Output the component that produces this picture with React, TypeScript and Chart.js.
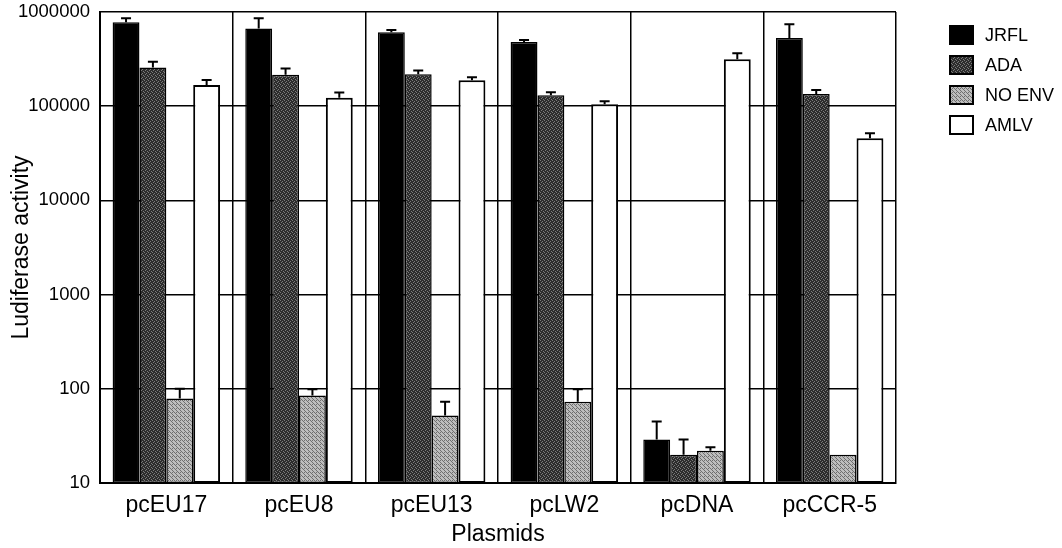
import React, { useEffect, useRef } from 'react';
import { Chart, registerables } from 'chart.js';

Chart.register(...registerables);

const categories = ['pcEU17', 'pcEU8', 'pcEU13', 'pcLW2', 'pcDNA', 'pcCCR-5'];
const seriesNames = ['JRFL', 'ADA', 'NO ENV', 'AMLV'];

const jrflValues = [780000, 670000, 610000, 480000, 29, 530000];
const jrflErrTop = [860000, 860000, 645000, 505000, 45, 740000];
const adaValues = [257000, 216000, 218000, 131000, 20, 135000];
const adaErrTop = [297000, 251000, 239000, 141000, 29, 149000];
const noEnvValues = [79, 85, 52, 73, 22, 20];
const noEnvErrTop = [100, 99, 73, 99, 24, 20];
const amlvValues = [168000, 123000, 188000, 105000, 315000, 45600];
const amlvErrTop = [190000, 140000, 203000, 113000, 364000, 51500];

const yTickValues = [10, 100, 1000, 10000, 100000, 1000000];

const FONT = '"Liberation Sans", Arial, Helvetica, sans-serif';

function makePattern(base: string, dot: string, mask: number[][]): CanvasPattern | string {
  const c = document.createElement('canvas');
  const n = mask.length;
  c.width = n;
  c.height = n;
  const g = c.getContext('2d');
  if (!g) return base;
  g.fillStyle = base;
  g.fillRect(0, 0, n, n);
  g.fillStyle = dot;
  for (let r = 0; r < n; r++) {
    for (let k = 0; k < n; k++) {
      if (mask[r][k]) g.fillRect(k, r, 1, 1);
    }
  }
  const p = g.createPattern(c, 'repeat');
  return p || base;
}

const errorBarPlugin = {
  id: 'errorBars',
  afterDatasetsDraw(chart: any) {
    const ctx = chart.ctx;
    const yScale = chart.scales.y;
    ctx.save();
    ctx.strokeStyle = '#000';
    ctx.lineWidth = 2;
    chart.data.datasets.forEach((ds: any, i: number) => {
      const meta = chart.getDatasetMeta(i);
      meta.data.forEach((bar: any, j: number) => {
        const top = ds.errTop[j];
        const yTop = bar.y;
        const yErr = yScale.getPixelForValue(top);
        if (yErr < yTop - 1) {
          ctx.beginPath();
          ctx.moveTo(bar.x, yTop);
          ctx.lineTo(bar.x, yErr);
          ctx.moveTo(bar.x - 5, yErr);
          ctx.lineTo(bar.x + 5, yErr);
          ctx.stroke();
        }
      });
    });
    ctx.restore();
  },
};

const legendPlugin = {
  id: 'boxLegend',
  afterDraw(chart: any) {
    const ctx = chart.ctx;
    ctx.save();
    const x0 = 950;
    const y0 = 26;
    const step = 30;
    const bw = 23;
    const bh = 18;
    chart.data.datasets.forEach((ds: any, i: number) => {
      const y = y0 + i * step;
      ctx.fillStyle = ds.backgroundColor;
      ctx.fillRect(x0, y, bw, bh);
      ctx.lineWidth = 2;
      ctx.strokeStyle = '#000';
      ctx.strokeRect(x0, y, bw, bh);
      ctx.fillStyle = '#000';
      ctx.font = `18px ${FONT}`;
      ctx.textBaseline = 'middle';
      ctx.textAlign = 'left';
      ctx.fillText(ds.label, x0 + bw + 12, y + bh / 2 + 1);
    });
    ctx.restore();
  },
};

export default function App() {
  const ref = useRef<HTMLCanvasElement | null>(null);

  useEffect(() => {
    if (!ref.current) return;
    const adaPat = makePattern('#2c2c2c', '#7a7a7a', [
      [1, 0, 0, 0],
      [0, 0, 1, 0],
      [0, 1, 0, 0],
      [0, 0, 0, 1],
    ]);
    const noEnvPat = makePattern('#bdbdbd', '#6e6e6e', [
      [1, 0, 1, 0],
      [0, 0, 0, 1],
      [1, 0, 0, 0],
      [0, 1, 0, 0],
    ]);
    const fills = ['#000000', adaPat, noEnvPat, '#ffffff'];
    const values = [jrflValues, adaValues, noEnvValues, amlvValues];
    const errs = [jrflErrTop, adaErrTop, noEnvErrTop, amlvErrTop];

    const chart = new Chart(ref.current, {
      type: 'bar',
      data: {
        labels: categories,
        datasets: seriesNames.map((name, i) => ({
          label: name,
          data: values[i],
          errTop: errs[i],
          backgroundColor: fills[i] as any,
          borderColor: '#000',
          borderWidth: i === 3 ? 2 : 1.5,
          borderSkipped: false,
          categoryPercentage: 0.81,
          barPercentage: 1.0,
        })) as any,
      },
      options: {
        animation: false,
        responsive: false,
        maintainAspectRatio: false,
        layout: { padding: { top: 12, right: 166, left: 0, bottom: 0 } },
        plugins: {
          legend: { display: false },
          tooltip: { enabled: false },
        },
        scales: {
          x: {
            type: 'category',
            grid: {
              display: true,
              offset: true,
              color: '#000',
              lineWidth: 1.5,
              drawTicks: false,
            },
            border: { display: true, color: '#000', width: 2 },
            ticks: {
              color: '#000',
              padding: 9,
              font: { family: FONT, size: 23 },
              maxRotation: 0,
            },
            title: {
              display: true,
              text: 'Plasmids',
              color: '#000',
              font: { family: FONT, size: 23 },
              padding: { top: 0, bottom: 0 },
            },
            afterFit: (s: any) => {
              s.height = 65;
              s.paddingLeft = 0;
              s.paddingRight = 0;
            },
          },
          y: {
            type: 'logarithmic',
            min: 10,
            max: 1000000,
            grid: {
              display: true,
              color: '#000',
              lineWidth: 1.5,
              drawTicks: false,
            },
            border: { display: true, color: '#000', width: 2 },
            ticks: {
              color: '#000',
              padding: 10,
              font: { family: FONT, size: 18.5 },
              callback: (v: any) => String(v),
            },
            afterBuildTicks: (s: any) => {
              s.ticks = yTickValues.map((v) => ({ value: v, major: false }));
            },
            title: {
              display: true,
              text: 'Ludiferase activity',
              color: '#000',
              font: { family: FONT, size: 23 },
              padding: { top: 8, bottom: 0 },
            },
            afterFit: (s: any) => {
              s.width = 100;
              s.paddingTop = 0;
              s.paddingBottom = 0;
            },
          },
        },
      },
      plugins: [errorBarPlugin, legendPlugin],
    } as any);

    return () => {
      chart.destroy();
    };
  }, []);

  return (
    <div style={{ position: 'fixed', left: 0, top: 0, width: 1062, height: 548, background: '#fff' }}>
      <canvas ref={ref} width={1062} height={548} style={{ display: 'block', width: 1062, height: 548 }} />
    </div>
  );
}
